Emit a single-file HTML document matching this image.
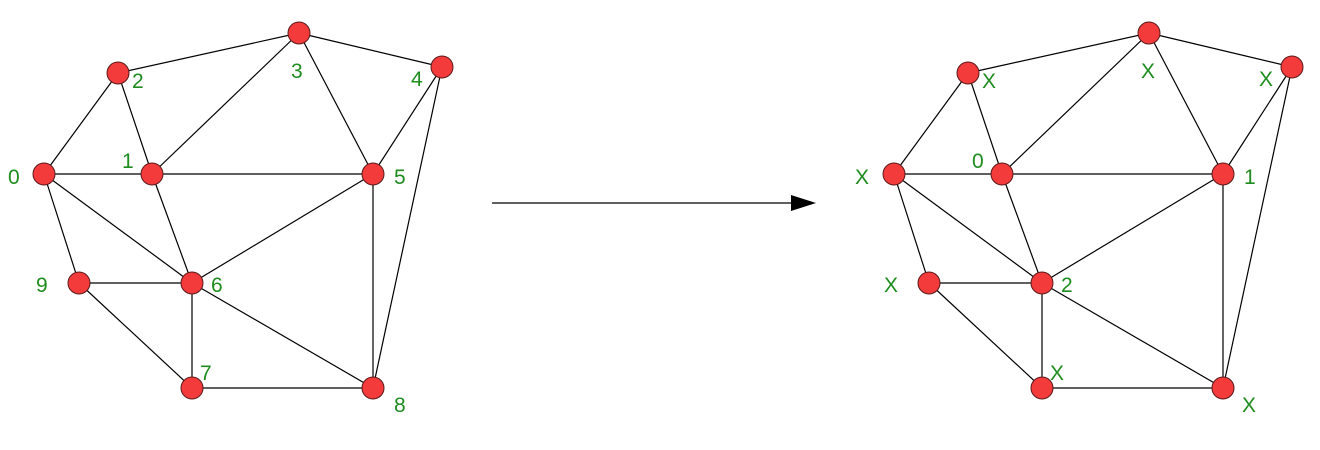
<!DOCTYPE html>
<html><head><style>body{margin:0;background:#fff}svg{display:block}text{font-family:"Liberation Sans",sans-serif;font-size:21px;fill:#1e8c1e}</style></head>
<body>
<svg width="1320" height="450" xmlns="http://www.w3.org/2000/svg">
<defs>
<g id="edges" stroke="#000" stroke-width="1.2">
<line x1="44" y1="174" x2="118" y2="73"/><line x1="118" y1="73" x2="299" y2="33"/>
<line x1="299" y1="33" x2="442" y2="67"/><line x1="118" y1="73" x2="152" y2="174"/>
<line x1="152" y1="174" x2="299" y2="33"/><line x1="299" y1="33" x2="373" y2="174"/>
<line x1="442" y1="67" x2="373" y2="174"/><line x1="442" y1="67" x2="373" y2="388"/>
<line x1="44" y1="174" x2="373" y2="174"/>
<line x1="44" y1="174" x2="79" y2="283"/><line x1="44" y1="174" x2="192" y2="283"/>
<line x1="152" y1="174" x2="192" y2="283"/><line x1="373" y1="174" x2="192" y2="283"/>
<line x1="373" y1="174" x2="373" y2="388"/><line x1="79" y1="283" x2="192" y2="283"/>
<line x1="79" y1="283" x2="192" y2="388"/><line x1="192" y1="283" x2="192" y2="388"/>
<line x1="192" y1="283" x2="373" y2="388"/><line x1="192" y1="388" x2="373" y2="388"/>
</g>
<g id="nodes" fill="#f33b3b" stroke="#5a1a1a" stroke-width="1">
<circle cx="44" cy="174" r="11"/><circle cx="152" cy="174" r="11"/><circle cx="118" cy="73" r="11"/>
<circle cx="299" cy="33" r="11"/><circle cx="442" cy="67" r="11"/><circle cx="373" cy="174" r="11"/>
<circle cx="192" cy="283" r="11"/><circle cx="192" cy="388" r="11"/><circle cx="373" cy="388" r="11"/>
<circle cx="79" cy="283" r="11"/>
</g>
</defs>
<use href="#edges"/><use href="#nodes"/>
<use href="#edges" x="850"/><use href="#nodes" x="850"/>
<text x="8" y="184">0</text><text x="122" y="168">1</text><text x="132" y="88">2</text>
<text x="291" y="78">3</text><text x="411" y="86">4</text><text x="394" y="184">5</text>
<text x="211" y="292">6</text><text x="200" y="380">7</text><text x="394" y="412">8</text>
<text x="36" y="292">9</text>
<text x="855" y="184">X</text><text x="972" y="168">0</text><text x="982" y="88">X</text>
<text x="1141" y="78">X</text><text x="1259" y="86">X</text><text x="1244" y="184">1</text>
<text x="1061" y="292">2</text><text x="1050" y="380">X</text><text x="1242" y="412">X</text>
<text x="884" y="292">X</text>
<line x1="492" y1="203" x2="792" y2="203" stroke="#000" stroke-width="1.2"/>
<polygon points="816,203 791,195 791,211" fill="#000"/>
</svg>
</body></html>
